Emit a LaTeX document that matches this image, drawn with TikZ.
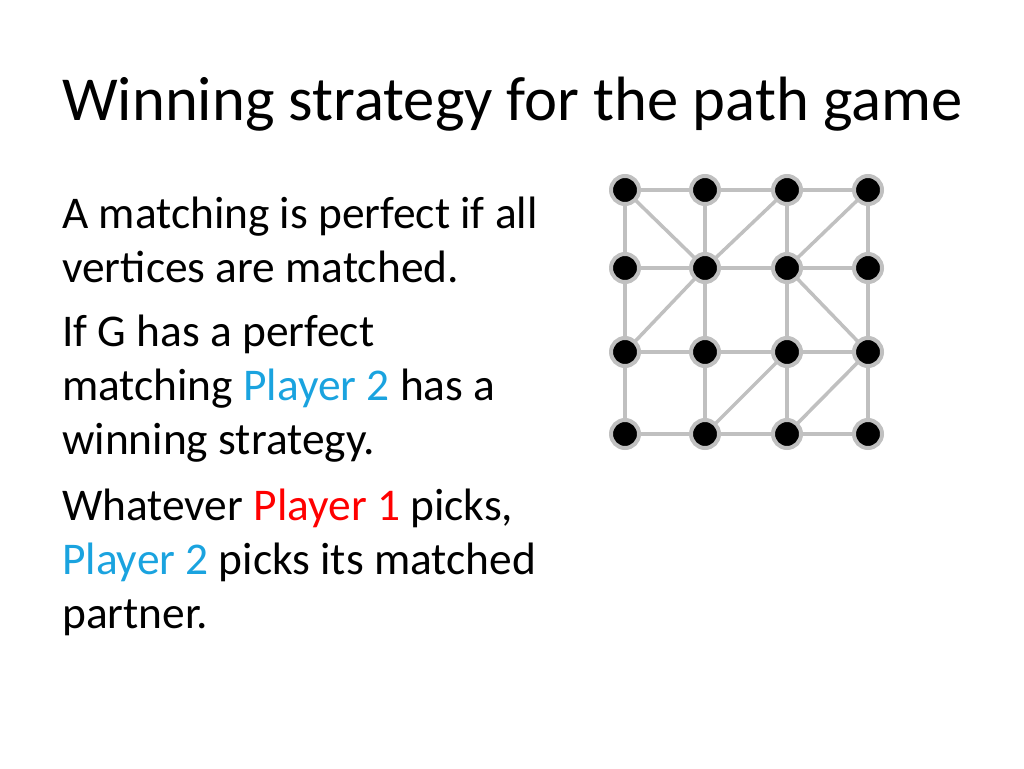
\documentclass[tikz,border=0pt]{standalone}
\usepackage{fontspec}
\setmainfont{Carlito}
\definecolor{pblue}{HTML}{1AA3DF}
\definecolor{pred}{HTML}{FF0000}
\definecolor{edge}{HTML}{C0C0C0}
\begin{document}
\begin{tikzpicture}[x=1pt,y=-1pt,
  v/.style={circle,fill=black,draw=edge,line width=4pt,minimum size=28pt,inner sep=0pt},
  e/.style={draw=edge,line width=3.5pt},
  tl/.style={anchor=base west,inner sep=0pt,font=\fontsize{45.4}{52}\selectfont}]
\useasboundingbox (0,0) rectangle (1024,768);
\node[anchor=base west,inner sep=0pt,font=\fontsize{62.6}{70}\selectfont] (title) at (62,120) {Winning strategy for the path game};
\node[tl] (l1) at (62,228) {A matching is perfect if all};
\node[tl] (l2) at (62,282) {vertices are matched.};
\node[tl] (l3) at (62,346) {If G has a perfect};
\node[tl] (l4) at (62,400) {matching \textcolor{pblue}{Player 2} has a};
\node[tl] (l5) at (62,454) {winning strategy.};
\node[tl] (l6) at (62,520) {Whatever \textcolor{pred}{Player 1} picks,};
\node[tl] (l7) at (62,574) {\textcolor{pblue}{Player 2} picks its matched};
\node[tl] (l8) at (62,628) {partner.};
\foreach \c/\x in {0/625,1/705,2/787,3/868}{
  \foreach \r/\y in {0/190,1/268,2/352,3/434}{
    \coordinate (p\c\r) at (\x,\y);
  }}
\foreach \r in {0,1,2,3}{
  \draw[e] (p0\r) -- (p1\r); \draw[e] (p1\r) -- (p2\r); \draw[e] (p2\r) -- (p3\r);}
\foreach \c in {0,1,2,3}{
  \draw[e] (p\c0) -- (p\c1); \draw[e] (p\c1) -- (p\c2); \draw[e] (p\c2) -- (p\c3);}
\draw[e] (p00) -- (p11);
\draw[e] (p20) -- (p11);
\draw[e] (p30) -- (p21);
\draw[e] (p11) -- (p02);
\draw[e] (p21) -- (p32);
\draw[e] (p22) -- (p13);
\draw[e] (p32) -- (p23);
\foreach \c in {0,1,2,3}{\foreach \r in {0,1,2,3}{\node[v] (n\c\r) at (p\c\r) {};}}
\end{tikzpicture}
\end{document}
